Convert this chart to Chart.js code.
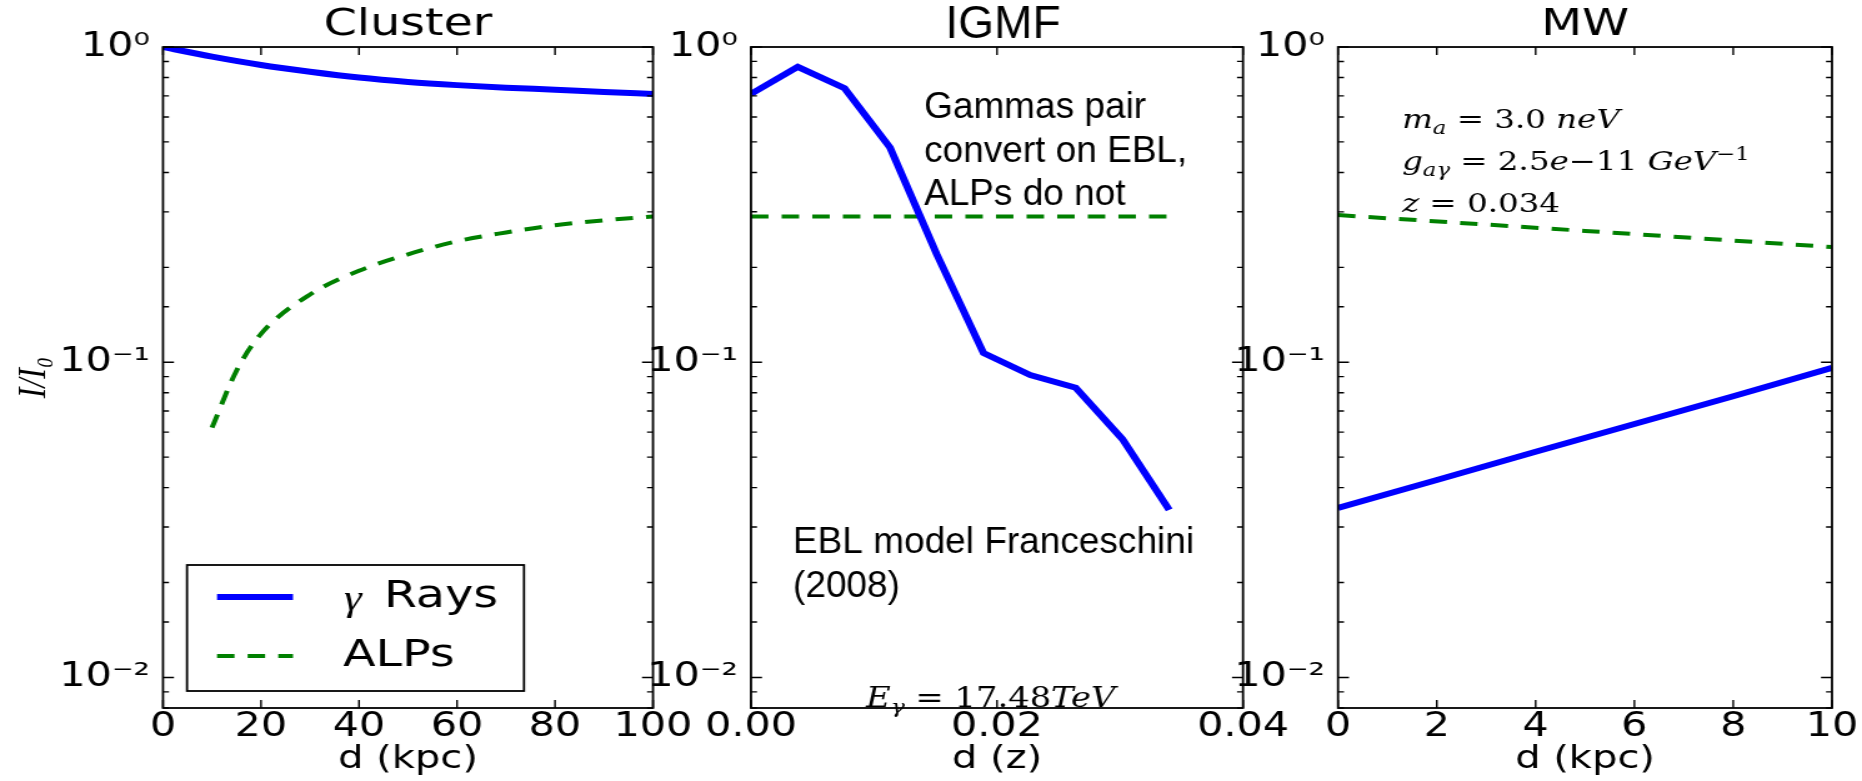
<!DOCTYPE html>
<html>
<head>
<meta charset="utf-8">
<title>I/I0 versus distance: Cluster, IGMF, MW</title>
<script src="https://cdn.jsdelivr.net/npm/chart.js@4.4.1/dist/chart.umd.min.js"></script>
<style>
  html, body { margin: 0; padding: 0; background: #fff; }
  #wrap { position: relative; width: 1862px; height: 781px; overflow: hidden; background: #fff; }
  #wrap canvas { position: absolute; left: 0; top: 0; }
</style>
</head>
<body>
<div id="wrap">
  <canvas id="cluster" style="width:1862px;height:781px"></canvas>
  <canvas id="igmf" style="width:1862px;height:781px"></canvas>
  <canvas id="mw" style="width:1862px;height:781px"></canvas>
</div>
<script>
// values
const clusterDist = [0, 10, 20, 30, 40, 50, 60, 70, 80, 90, 100];
const clusterGamma = [1.0, 0.932, 0.877, 0.835, 0.80, 0.775, 0.757, 0.743, 0.732, 0.72, 0.71];
const clusterAlpDist = [10, 15, 20, 30, 40, 50, 60, 70, 80, 90, 100];
const clusterAlp = [0.062, 0.094, 0.123, 0.164, 0.195, 0.22, 0.242, 0.258, 0.272, 0.282, 0.29];

const igmfZ = [0, 0.0038, 0.0076, 0.0113, 0.0151, 0.0189, 0.0227, 0.0264, 0.0302, 0.034];
const igmfGamma = [0.71, 0.865, 0.74, 0.48, 0.22, 0.107, 0.091, 0.083, 0.057, 0.034];
const igmfAlpZ = [0, 0.034];
const igmfAlp = [0.29, 0.29];

const mwDist = [0, 2, 4, 6, 8, 10];
const mwGamma = [0.0345, 0.0423, 0.052, 0.0637, 0.078, 0.096];
const mwAlpDist = [0, 5, 10];
const mwAlp = [0.293, 0.261, 0.232];

const seriesNames = ['γ Rays', 'ALPs'];
const panelTitles = ['Cluster', 'IGMF', 'MW'];
const xTitles = ['d (kpc)', 'd (z)', 'd (kpc)'];
const yTitle = 'I/I₀';
const yTickValues = [0.01, 0.1, 1];
const yTickLabels = ['10⁻²', '10⁻¹', '10⁰'];

const igmfNoteTop = ['Gammas pair', 'convert on EBL,', 'ALPs do not'];
const igmfNoteBottom = ['EBL model Franceschini', '(2008)'];
const energyLabel = [{ t: 'E', i: 1 }, { t: 'γ', i: 1, sub: 1 }, { t: ' = 17.48' }, { t: 'TeV', i: 1 }];
const mwLabel = [
  [{ t: 'm', i: 1 }, { t: 'a', i: 1, sub: 1 }, { t: ' = 3.0 ' }, { t: 'neV', i: 1 }],
  [{ t: 'g', i: 1 }, { t: 'aγ', i: 1, sub: 1 }, { t: ' = 2.5' }, { t: 'e', i: 1 }, { t: '−11 ' }, { t: 'GeV', i: 1 }, { t: '−1', sup: 1 }],
  [{ t: 'z', i: 1 }, { t: ' = 0.034' }]
];

// the plotted part of the figure is stretched sideways, so the canvas is too
const CW = 1490, CH = 781;
const S = 1862 / CW;
const cx = v => v / S;
const PLOT_TOP = 47, PLOT_BOTTOM = 708;

const BLUE = '#0000ff', GREEN = '#008000', INK = '#000000';
const SANS = '"DejaVu Sans", sans-serif';
const ARIAL = '"Liberation Sans", Arial, sans-serif';
const SERIF = '"Liberation Serif", "DejaVu Serif", serif';
const MATH = '"DejaVu Serif", serif';

Chart.defaults.color = INK;
Chart.defaults.font.family = SANS;

function pts(xs, ys) {
  return xs.map((x, i) => ({ x: x, y: ys[i] }));
}

function gammaSet(xs, ys, smooth) {
  return {
    label: seriesNames[0], data: pts(xs, ys),
    borderColor: BLUE, backgroundColor: BLUE, borderWidth: 6,
    pointRadius: 0, cubicInterpolationMode: smooth ? 'monotone' : 'default'
  };
}

function alpSet(xs, ys, smooth) {
  return {
    label: seriesNames[1], data: pts(xs, ys),
    borderColor: GREEN, backgroundColor: GREEN, borderWidth: 4, borderDash: [14, 10.5],
    pointRadius: 0, cubicInterpolationMode: smooth ? 'monotone' : 'default'
  };
}

function isDecade(v) {
  return yTickValues.some(t => Math.abs(t - v) < t * 1e-6);
}

function decadeLabel(v) {
  const i = yTickValues.findIndex(t => Math.abs(t - v) < t * 1e-6);
  return i < 0 ? '' : yTickLabels[i];
}

// little mathtext-like writer: italic, subscript, superscript pieces
function drawMath(ctx, parts, x, y, size) {
  ctx.save();
  ctx.fillStyle = INK;
  ctx.textAlign = 'left';
  ctx.textBaseline = 'alphabetic';
  parts.forEach(p => {
    const sz = (p.sub || p.sup) ? size * 0.7 : size;
    ctx.font = (p.i ? 'italic ' : '') + sz + 'px ' + MATH;
    const dy = p.sub ? size * 0.22 : (p.sup ? -size * 0.4 : 0);
    ctx.fillText(p.t, x, y + dy);
    x += ctx.measureText(p.t).width;
  });
  ctx.restore();
}

// box round the plot with inward ticks, like the original
const frameTicks = {
  id: 'frameTicks',
  afterDraw(chart) {
    const { ctx, chartArea: a, scales } = chart;
    ctx.save();
    ctx.strokeStyle = INK;
    ctx.lineWidth = 1.4;
    ctx.beginPath();
    scales.x.ticks.forEach(t => {
      const px = scales.x.getPixelForValue(t.value);
      ctx.moveTo(px, a.bottom); ctx.lineTo(px, a.bottom - 8);
      ctx.moveTo(px, a.top); ctx.lineTo(px, a.top + 8);
    });
    scales.y.ticks.forEach(t => {
      const py = scales.y.getPixelForValue(t.value);
      const len = cx(isDecade(t.value) ? 11 : 6);
      ctx.moveTo(a.left, py); ctx.lineTo(a.left + len, py);
      ctx.moveTo(a.right, py); ctx.lineTo(a.right - len, py);
    });
    ctx.stroke();
    ctx.lineWidth = 1.8;
    ctx.strokeRect(a.left, a.top, a.right - a.left, a.bottom - a.top);
    ctx.restore();
  }
};

// legend in the lower left corner of the first panel
const boxLegend = {
  id: 'boxLegend',
  afterDraw(chart) {
    const { ctx, chartArea: a } = chart;
    const h = 126;
    const left = a.left + cx(24), w = cx(337), top = a.bottom - 17 - h;
    ctx.save();
    ctx.fillStyle = '#fff';
    ctx.fillRect(left, top, w, h);
    ctx.strokeStyle = INK;
    ctx.lineWidth = 1.8;
    ctx.strokeRect(left, top, w, h);
    chart.data.datasets.forEach((ds, i) => {
      const y = top + 32 + i * 59;
      ctx.strokeStyle = ds.borderColor;
      ctx.lineWidth = ds.borderWidth;
      ctx.setLineDash(ds.borderDash || []);
      ctx.beginPath();
      ctx.moveTo(left + cx(30), y);
      ctx.lineTo(left + cx(106), y);
      ctx.stroke();
      ctx.setLineDash([]);
      ctx.fillStyle = INK;
      ctx.textBaseline = 'middle';
      let text = ds.label;
      if (text.startsWith('γ')) {
        ctx.font = 'italic 36px ' + SERIF;
        ctx.fillText('γ', left + cx(157), y + 4);
        text = text.slice(2);
        ctx.font = '38px ' + SANS;
        ctx.fillText(text, left + cx(197), y);
      } else {
        ctx.font = '38px ' + SANS;
        ctx.fillText(text, left + cx(156), y);
      }
    });
    ctx.restore();
  }
};

// slide text on the middle panel is not stretched
const igmfNotes = {
  id: 'igmfNotes',
  afterDraw(chart) {
    const { ctx, chartArea: a } = chart;
    ctx.save();
    ctx.scale(1 / S, 1);
    const L = a.left * S;
    ctx.fillStyle = INK;
    ctx.textBaseline = 'alphabetic';
    ctx.textAlign = 'center';
    ctx.font = '46px ' + ARIAL;
    ctx.fillText(panelTitles[1], (a.left + a.right) / 2 * S + 6, 38);
    ctx.textAlign = 'left';
    ctx.font = '37px ' + ARIAL;
    igmfNoteTop.forEach((t, i) => ctx.fillText(t, L + 173, a.top + 71 + i * 43.5));
    igmfNoteBottom.forEach((t, i) => ctx.fillText(t, L + 42, a.top + 506 + i * 44));
    ctx.restore();
    drawMath(ctx, energyLabel, a.left + cx(115), a.bottom - 1, 27);
  }
};

const mwNotes = {
  id: 'mwNotes',
  afterDraw(chart) {
    const { ctx, chartArea: a } = chart;
    mwLabel.forEach((line, i) => drawMath(ctx, line, a.left + cx(64), a.top + 81 + i * 42, 26));
  }
};

function panel(id, o) {
  const canvas = document.getElementById(id);
  canvas.width = CW;
  canvas.height = CH;
  return new Chart(canvas, {
    type: 'line',
    data: { datasets: o.datasets },
    plugins: [frameTicks].concat(o.plugins || []),
    options: {
      responsive: false,
      animation: false,
      devicePixelRatio: 1,
      layout: { padding: { left: o.padLeft, right: o.padRight, top: o.title ? 0 : PLOT_TOP, bottom: 0 } },
      plugins: {
        legend: { display: false },
        tooltip: { enabled: false },
        title: o.title ? {
          display: true, text: o.title, color: INK, fullSize: false,
          font: { family: SANS, size: 38, weight: 'normal', lineHeight: 1.132 },
          padding: { top: 4, bottom: 0 }
        } : { display: false }
      },
      scales: {
        x: {
          type: 'linear', min: o.xMin, max: o.xMax,
          ticks: {
            stepSize: o.xStep, autoSkip: false, maxRotation: 0, padding: 0, color: INK,
            font: { family: SANS, size: 33 },
            callback: o.xFormat
          },
          grid: { display: false, drawTicks: false },
          border: { display: false },
          title: {
            display: true, text: o.xTitle, color: INK,
            font: { family: SANS, size: 32 },
            padding: { top: 0, bottom: 1.8 }
          },
          afterFit: s => { s.height = CH - PLOT_BOTTOM; }
        },
        y: {
          type: 'logarithmic', min: 0.008, max: 1,
          ticks: {
            autoSkip: false, padding: cx(13), color: INK,
            font: { family: SANS, size: 33 },
            callback: v => decadeLabel(v)
          },
          grid: { display: false, drawTicks: false },
          border: { display: false },
          title: {
            display: !!o.yTitle, text: o.yTitle || '', color: INK,
            font: { family: SERIF, size: 32, style: 'italic' },
            padding: { top: 8, bottom: 0 }
          },
          afterFit: s => { s.width = o.yWidth; }
        }
      }
    }
  });
}

panel('cluster', {
  datasets: [gammaSet(clusterDist, clusterGamma, true), alpSet(clusterAlpDist, clusterAlp, true)],
  plugins: [boxLegend],
  title: panelTitles[0], xTitle: xTitles[0], yTitle: yTitle,
  xMin: 0, xMax: 100, xStep: 20, xFormat: v => String(v),
  padLeft: 0, yWidth: cx(163), padRight: CW - cx(653)
});

panel('igmf', {
  datasets: [gammaSet(igmfZ, igmfGamma, false), alpSet(igmfAlpZ, igmfAlp, false)],
  plugins: [igmfNotes],
  title: null, xTitle: xTitles[1],
  xMin: 0, xMax: 0.04, xStep: 0.02, xFormat: v => Number(v).toFixed(2),
  padLeft: cx(751) - cx(100), yWidth: cx(100), padRight: CW - cx(1243)
});

panel('mw', {
  datasets: [gammaSet(mwDist, mwGamma, false), alpSet(mwAlpDist, mwAlp, false)],
  plugins: [mwNotes],
  title: panelTitles[2], xTitle: xTitles[2],
  xMin: 0, xMax: 10, xStep: 2, xFormat: v => String(v),
  padLeft: cx(1338) - cx(100), yWidth: cx(100), padRight: CW - cx(1832)
});
</script>
</body>
</html>
